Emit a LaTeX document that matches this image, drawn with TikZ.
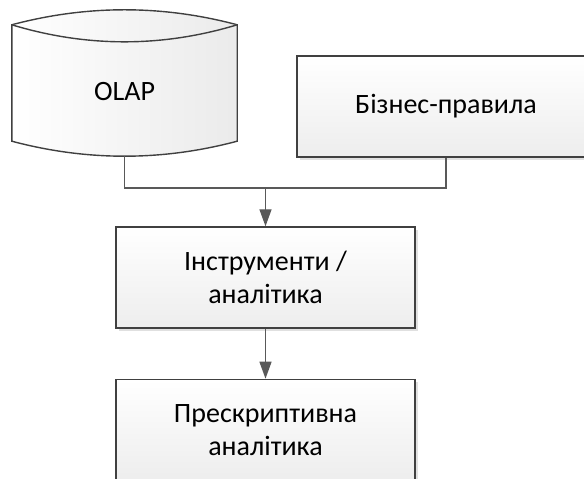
\documentclass[tikz,border=0pt]{standalone}
\usepackage{fontspec}
\setmainfont{Carlito}
\usetikzlibrary{arrows.meta,positioning,shadows}
\tikzset{
  block/.style={
    draw=black!75,
    line width=1.4pt,
    align=center,
    minimum width=299pt,
    minimum height=101pt,
    top color=white,
    bottom color=black!7,
    drop shadow={shadow xshift=3pt,shadow yshift=-3pt,fill=black!12,opacity=1},
    font=\fontsize{28}{33}\selectfont
  },
  store/.style={
    minimum width=225pt,
    minimum height=99pt,
    font=\fontsize{28}{33}\selectfont
  },
  cyl/.style={
    draw=black!75,
    line width=1.4pt,
    left color=white,
    right color=black!8
  },
  link/.style={
    draw=black!65,
    line width=1.4pt
  },
  flow/.style={
    link,
    -{Triangle[length=17pt,width=12pt]}
  }
}

\begin{document}
\begin{tikzpicture}[x=1pt,y=1pt,node distance=50pt]
  \clip (0,0) rectangle (584,479);
  \useasboundingbox (0,0) rectangle (584,479);

  % top row
  \node[block, minimum width=298pt] (rules) at (446,372.5) {Бізнес-правила};
  \node[store] (olap) at (124.5,387.5) {};
  \draw[cyl] ([yshift=17pt]olap.north west) -- (olap.south west)
    .. controls +(75,-20) and +(-75,-20) .. (olap.south east)
    -- ([yshift=17pt]olap.north east)
    .. controls +(-75,20) and +(75,20) .. ([yshift=17pt]olap.north west) -- cycle;
  \draw[cyl, fill=none] ([yshift=17pt]olap.north west)
    .. controls +(75,-22.7) and +(-75,-22.7) .. ([yshift=17pt]olap.north east);
  \node[store] at (olap) {OLAP};
  \coordinate (olapbase) at ([yshift=-15pt]olap.south);

  % chain
  \node[block] (tools) at (265.5,201.5) {Інструменти /\\аналітика};
  \node[block, below=of tools] (presc) {Прескриптивна\\аналітика};

  \coordinate (junc) at (tools.north |- 0,291);
  \draw[link] (olapbase) |- (junc) -| (rules.south);
  \draw[flow] (junc) -- (tools);
  \draw[flow] (tools) -- (presc);
\end{tikzpicture}
\end{document}
